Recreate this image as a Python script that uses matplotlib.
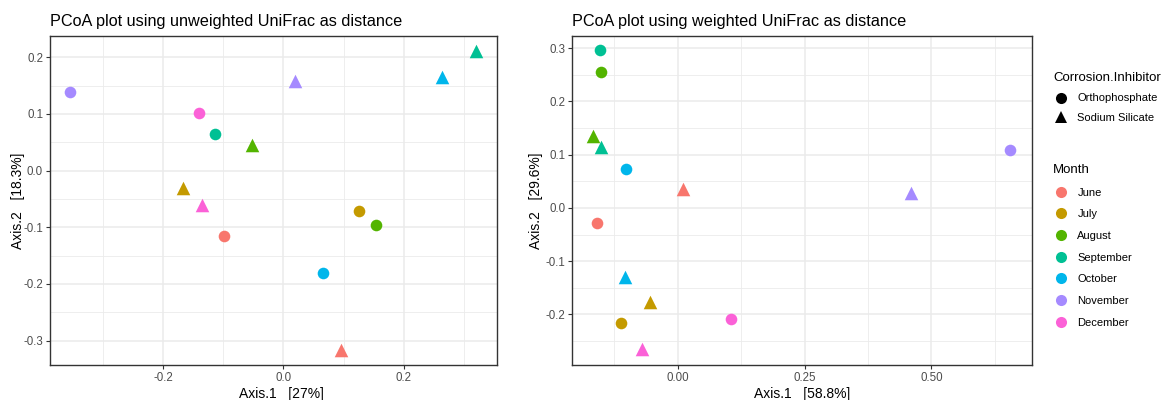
import matplotlib.pyplot as plt
import numpy as np
from matplotlib.lines import Line2D
from matplotlib.ticker import MultipleLocator

plt.rcParams['font.family'] = ['Liberation Sans', 'DejaVu Sans']
plt.rcParams['axes.unicode_minus'] = False

months = ['June', 'July', 'August', 'September', 'October', 'November', 'December']
month_colors = ['#F8766D', '#C49A00', '#53B400', '#00C094', '#00B6EB', '#A58AFF', '#FB61D7']
inhibitors = ['Orthophosphate', 'Sodium Silicate']

# unweighted UniFrac ordination, one value per month
uw_ortho_x = [-0.099, 0.126, 0.154, -0.113, 0.066, -0.355, -0.140]
uw_ortho_y = [-0.116, -0.071, -0.096, 0.065, -0.181, 0.138, 0.102]
uw_sil_x = [0.095, -0.167, -0.053, 0.320, 0.264, 0.020, -0.135]
uw_sil_y = [-0.316, -0.031, 0.045, 0.212, 0.166, 0.158, -0.061]

# weighted UniFrac ordination
w_ortho_x = [-0.159, -0.111, -0.151, -0.153, -0.103, 0.655, 0.105]
w_ortho_y = [-0.028, -0.216, 0.255, 0.296, 0.073, 0.108, -0.209]
w_sil_x = [0.011, -0.055, -0.168, -0.152, -0.105, 0.459, -0.071]
w_sil_y = [0.036, -0.176, 0.135, 0.115, -0.130, 0.028, -0.265]

grid_col = '#EBEBEB'
tick_col = '#4D4D4D'


def style_axis(ax, xstep, ystep, xlim, ylim, xfmt, yfmt):
    ax.set_xlim(xlim)
    ax.set_ylim(ylim)
    ax.xaxis.set_major_locator(MultipleLocator(xstep))
    ax.yaxis.set_major_locator(MultipleLocator(ystep))
    ax.xaxis.set_minor_locator(MultipleLocator(xstep / 2))
    ax.yaxis.set_minor_locator(MultipleLocator(ystep / 2))
    ax.xaxis.set_major_formatter(xfmt)
    ax.yaxis.set_major_formatter(yfmt)
    ax.grid(which='major', color=grid_col, lw=1.1, zorder=0)
    ax.grid(which='minor', color=grid_col, lw=0.6, zorder=0)
    ax.set_axisbelow(True)
    ax.tick_params(which='major', length=3, width=0.8, color='#333333',
                   labelsize=8.3, labelcolor=tick_col, pad=2)
    ax.tick_params(which='minor', length=0)
    for s in ax.spines.values():
        s.set_color('#333333')
        s.set_linewidth(1.0)


def draw_points(ax, ox, oy, sx, sy):
    for i in range(len(months)):
        ax.scatter(ox[i], oy[i], s=70, marker='o', color=month_colors[i], lw=0, zorder=3)
        ax.scatter(sx[i], sy[i], s=95, marker='^', color=month_colors[i], lw=0, zorder=3)


fig = plt.figure(figsize=(11.66, 4), dpi=100)
ax1 = fig.add_axes([0.0429, 0.0875, 0.3833, 0.8225])
ax2 = fig.add_axes([0.4908, 0.0875, 0.3943, 0.8225])

draw_points(ax1, uw_ortho_x, uw_ortho_y, uw_sil_x, uw_sil_y)
style_axis(ax1, 0.2, 0.1, (-0.388, 0.355), (-0.343, 0.2376), '{x:.1f}', '{x:.1f}')
ax1.set_title('PCoA plot using unweighted UniFrac as distance', loc='left', fontsize=11.7, pad=7)
ax1.set_xlabel('Axis.1   [27%]', fontsize=10)
ax1.xaxis.set_label_coords(0.517, -0.068)
ax1.set_ylabel('Axis.2   [18.3%]', fontsize=10)
ax1.yaxis.set_label_coords(-25 / 447, 0.5)

draw_points(ax2, w_ortho_x, w_ortho_y, w_sil_x, w_sil_y)
style_axis(ax2, 0.25, 0.1, (-0.208, 0.6985), (-0.295, 0.323), '{x:.2f}', '{x:.1f}')
ax2.set_title('PCoA plot using weighted UniFrac as distance', loc='left', fontsize=11.7, pad=7)
ax2.set_xlabel('Axis.1   [58.8%]', fontsize=10)
ax2.xaxis.set_label_coords(0.5, -0.068)
ax2.set_ylabel('Axis.2   [29.6%]', fontsize=10)
ax2.yaxis.set_label_coords(-29 / 460, 0.5)

# legends
shape_handles = [
    Line2D([], [], ls='', marker='o', ms=8, color='black', mew=0),
    Line2D([], [], ls='', marker='^', ms=9, color='black', mew=0),
]
leg1 = fig.legend(shape_handles, inhibitors, title='Corrosion.Inhibitor',
                  loc='upper left', bbox_to_anchor=(0.8945, 0.845), frameon=False,
                  fontsize=8, title_fontsize=9.5, alignment='left',
                  handletextpad=0.7, labelspacing=0.85, handlelength=1.5)

month_handles = [Line2D([], [], ls='', marker='o', ms=8, color=c, mew=0) for c in month_colors]
leg2 = fig.legend(month_handles, months, title='Month',
                  loc='upper left', bbox_to_anchor=(0.8945, 0.615), frameon=False,
                  fontsize=8, title_fontsize=9.5, alignment='left',
                  handletextpad=0.7, labelspacing=1.05, handlelength=1.5)

fig.savefig('out.png', dpi=100)
